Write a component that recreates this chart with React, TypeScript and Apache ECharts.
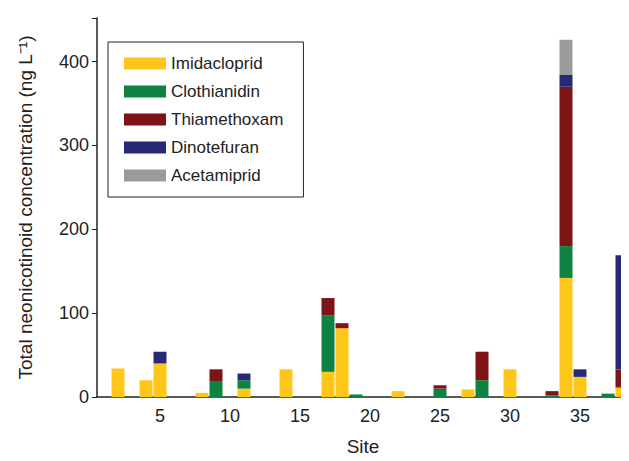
import React, { useEffect, useRef } from 'react';
import * as echarts from 'echarts';

const sites = Array.from({ length: 38 }, (_, i) => String(i + 1));
const seriesNames = ['Imidacloprid', 'Clothianidin', 'Thiamethoxam', 'Dinotefuran', 'Acetamiprid'];
const colors = ['#FFC61A', '#0E8241', '#7F1416', '#262A75', '#9B9B9D'];

// values per site (1..38)
const imidacloprid = [0, 34, 0, 20, 40, 0, 0, 5, 0, 0, 10, 0, 0, 33, 0, 0, 30, 82, 0, 0, 0, 7, 0, 0, 0, 0, 9, 0, 0, 33, 0, 0, 0, 142, 24, 0, 0, 11];
const clothianidin = [0, 0, 0, 0, 0, 0, 0, 0, 19, 0, 10, 0, 0, 0, 0, 0, 67, 0, 3, 0, 0, 0, 0, 0, 10, 0, 0, 20, 0, 0, 0, 0, 2, 38, 0, 0, 4, 1];
const thiamethoxam = [0, 0, 0, 0, 0, 0, 0, 0, 14, 0, 0, 0, 0, 0, 0, 0, 21, 6, 0, 0, 0, 0, 0, 0, 4, 0, 0, 34, 0, 0, 0, 0, 5, 190, 0, 0, 0, 21];
const dinotefuran = [0, 0, 0, 0, 14, 0, 0, 0, 0, 0, 8, 0, 0, 0, 0, 0, 0, 0, 0, 0, 0, 0, 0, 0, 0, 0, 0, 0, 0, 0, 0, 0, 0, 14, 9, 0, 0, 136];
const acetamiprid = [0, 0, 0, 0, 0, 0, 0, 0, 0, 0, 0, 0, 0, 0, 0, 0, 0, 0, 0, 0, 0, 0, 0, 0, 0, 0, 0, 0, 0, 0, 0, 0, 0, 42, 0, 0, 0, 0];
const yTicks = [0, 100, 200, 300, 400];

const App = () => {
  const chartRef = useRef(null);

  useEffect(() => {
    const chart = echarts.init(chartRef.current, null, { renderer: 'svg' });
    const font = 'Liberation Sans, Arial, sans-serif';
    const data = [imidacloprid, clothianidin, thiamethoxam, dinotefuran, acetamiprid];

    chart.setOption({
      animation: false,
      textStyle: { fontFamily: font },
      grid: { left: 80, right: -8, top: 10, bottom: 50 },
      legend: {
        left: 100,
        top: 34,
        orient: 'vertical',
        data: seriesNames,
        itemWidth: 42,
        itemHeight: 12,
        itemGap: 11,
        padding: [13, 20, 13, 16],
        borderColor: '#222',
        borderWidth: 1,
        icon: 'rect',
        textStyle: { fontSize: 17, color: '#222', fontFamily: font },
      },
      xAxis: {
        type: 'category',
        data: sites,
        name: 'Site',
        nameLocation: 'middle',
        nameGap: 40,
        nameTextStyle: { fontSize: 19, color: '#222' },
        axisLine: { lineStyle: { color: '#222', width: 1.5 } },
        axisTick: { alignWithLabel: true, interval: (i: number) => (i + 1) % 5 === 0, length: 5, lineStyle: { color: '#222' } },
        axisLabel: { interval: (i: number) => (i + 1) % 5 === 0, fontSize: 18, color: '#222', margin: 10 },
      },
      yAxis: {
        type: 'value',
        min: 0,
        max: 452,
        interval: 100,
        name: 'Total neonicotinoid concentration (ng L⁻¹)',
        nameLocation: 'middle',
        nameGap: 62,
        nameTextStyle: { fontSize: 19, color: '#222' },
        axisLine: { show: true, lineStyle: { color: '#222', width: 1.5 } },
        axisTick: { show: true, length: 5, lineStyle: { color: '#222' } },
        axisLabel: {
          fontSize: 18,
          color: '#222',
          margin: 8,
          formatter: (v: number) => (yTicks.includes(v) ? String(v) : ''),
        },
        splitLine: { show: false },
      },
      series: seriesNames.map((name, k) => ({
        name,
        type: 'bar',
        stack: 'total',
        data: data[k],
        barWidth: 13,
        itemStyle: { color: colors[k] },
      })),
    });

    return () => chart.dispose();
  }, []);

  return <div ref={chartRef} style={{ width: 621, height: 453 }} />;
};

export default App;
